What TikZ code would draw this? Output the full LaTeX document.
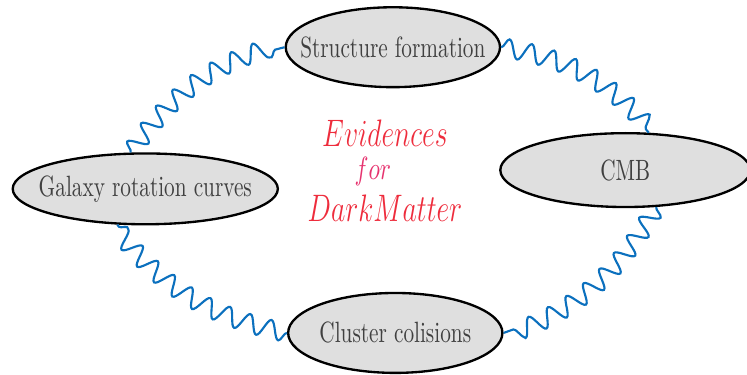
\documentclass[tikz,border=0pt]{standalone}
\usepackage[dvipsnames]{xcolor}
\usepackage{graphicx}
\usepackage{tikz}
\usetikzlibrary{shapes.geometric,decorations.pathmorphing}
\definecolor{wave600} {HTML}{0B70BE}
\definecolor{ev600}   {HTML}{EE2C3C}
\definecolor{for500}  {HTML}{E6336F}
\definecolor{grey250} {HTML}{DFDFDF}
\definecolor{grey750} {HTML}{404040}
\newcommand{\vtxt}[1]{\scalebox{1}[1.38]{#1}}
\newcommand{\ttxt}[1]{\scalebox{1.09}[1.5]{#1}}
\newcommand{\etxt}[1]{\makebox[0pt]{\vtxt{#1}}}
\tikzset{
  evid/.style  ={ellipse, draw=black, line width=1.1pt, fill=grey250,
                 inner sep=0pt, text=grey750, font=\normalsize},
  wave/.style  ={draw=wave600, line width=1pt,
                 decorate, decoration={snake, amplitude=4.3pt,
                 segment length=10.5pt}},
  ttl/.style   ={text=ev600, font=\large, inner sep=1pt},
  ttls/.style  ={text=for500, font=\fontsize{10.6}{13}\selectfont, inner sep=1pt}
}
\begin{document}
\begin{tikzpicture}
\useasboundingbox (0,0) rectangle (12.34,6.18);
\node[evid, minimum width=3.54cm, minimum height=1.32cm] (sf) at (6.49,5.40)
  {\etxt{Structure formation}};
\node[evid, minimum width=4.38cm, minimum height=1.17cm] (gal) at (2.40,3.06)
  {\etxt{Galaxy rotation curves}};
\node[evid, minimum width=4.13cm, minimum height=1.22cm] (cmb) at (10.33,3.37)
  {\etxt{CMB}};
\node[evid, minimum width=3.54cm, minimum height=1.32cm] (cl) at (6.53,0.68)
  {\etxt{Cluster colisions}};

\node[ttl]  (ev)  at (6.36,3.98) {\ttxt{$Evidences$}};
\node[ttls] (for) at (6.16,3.35) {\vtxt{$for$}};
\node[ttl]  (dm)  at (6.36,2.74) {\ttxt{$DarkMatter$}};

\draw[wave] (sf.east)  to[bend left=20] (cmb.58);
\draw[wave] (cmb.-50)  to[bend left=20] (cl.east);
\draw[wave] (cl.west)  to[bend left=20] (gal.232);
\draw[wave] (gal.112)  to[bend left=20] (sf.west);
\end{tikzpicture}
\end{document}
